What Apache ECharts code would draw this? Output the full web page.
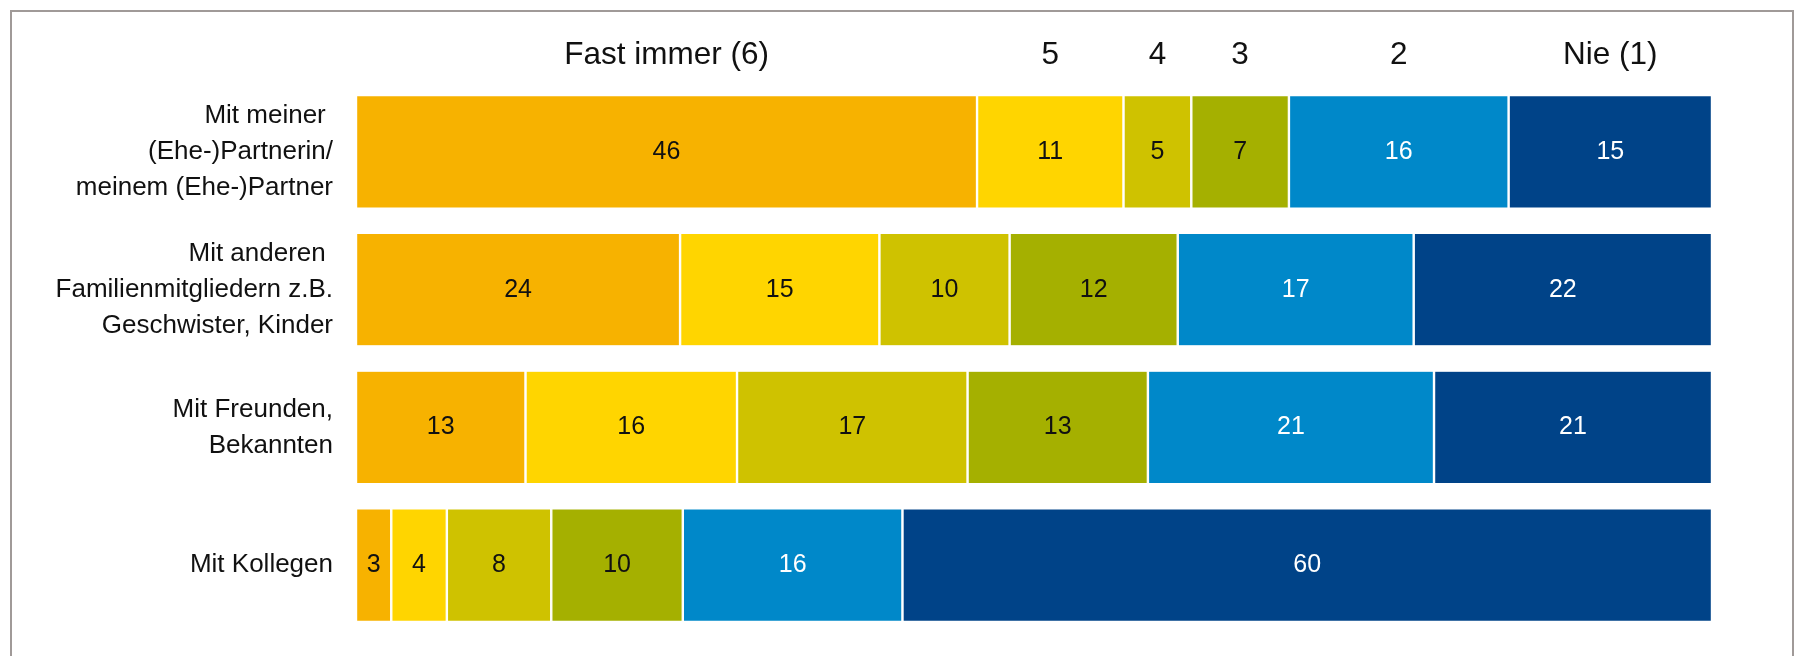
<!DOCTYPE html>
<html>
<head>
<meta charset="utf-8">
<script src="https://cdn.jsdelivr.net/npm/echarts@6/dist/echarts.min.js"></script>
<style>
html,body{margin:0;padding:0;background:#fff;}
#main{width:1799px;height:656px;}
</style>
</head>
<body>
<div id="main"></div>
<script>
var categories = [
  'Mit meiner \n(Ehe-)Partnerin/\nmeinem (Ehe-)Partner',
  'Mit anderen \nFamilienmitgliedern z.B.\nGeschwister, Kinder',
  'Mit Freunden,\nBekannten',
  'Mit Kollegen'
];
var seriesNames = ['Fast immer (6)', '5', '4', '3', '2', 'Nie (1)'];
var s6 = [45.8, 23.9, 12.5, 2.6];
var s5 = [10.8, 14.7, 15.6, 4.1];
var s4 = [5.0, 9.6, 17.0, 7.7];
var s3 = [7.2, 12.4, 13.3, 9.7];
var s2 = [16.2, 17.4, 21.1, 16.2];
var s1 = [15.0, 22.0, 20.5, 59.7];
var seriesValues = [s6, s5, s4, s3, s2, s1];
var colors = ['#F7B200', '#FFD500', '#CFC200', '#A5B000', '#0088C9', '#004388'];
var labelColors = ['#111', '#111', '#111', '#111', '#fff', '#fff'];

var FONT = '"Liberation Sans", Arial, sans-serif';
var series = [];
seriesValues.forEach(function (vals, i) {
  series.push({
    name: seriesNames[i],
    type: 'bar',
    stack: 'main',
    barWidth: '82.5%',
    barGap: '-100%',
    data: vals,
    itemStyle: { color: colors[i], borderColor: '#fff', borderWidth: 1.2 },
    label: {
      show: true,
      position: 'inside',
      color: labelColors[i],
      fontFamily: FONT,
      fontSize: 25,
      formatter: function (p) { return Math.round(p.value); }
    },
    silent: true
  });
});
// header labels: transparent overlay on first row
seriesValues.forEach(function (vals, i) {
  series.push({
    name: seriesNames[i] + ' header',
    type: 'bar',
    stack: 'header',
    barWidth: '82.5%',
    barGap: '-100%',
    data: vals.map(function (v, j) { return j === 0 ? v : null; }),
    itemStyle: { color: 'rgba(0,0,0,0)' },
    label: {
      show: true,
      position: 'top',
      distance: 24,
      color: '#111',
      fontFamily: FONT,
      fontSize: 31.5,
      formatter: seriesNames[i]
    },
    silent: true,
    z: 5
  });
});

var chart = echarts.init(document.getElementById('main'));
chart.setOption({
  animation: false,
  backgroundColor: '#fff',
  graphic: [{
    type: 'rect',
    shape: { x: 11, y: 11, width: 1782, height: 700 },
    style: { fill: 'none', stroke: '#A09A98', lineWidth: 2 },
    silent: true
  }],
  grid: { left: 356, right: 87, top: 83, bottom: 22 },
  xAxis: { type: 'value', min: 0, max: 100, show: false },
  yAxis: {
    type: 'category',
    data: categories,
    inverse: true,
    axisLine: { show: false },
    axisTick: { show: false },
    axisLabel: {
      margin: 23,
      color: '#111',
      fontFamily: FONT,
      fontSize: 26,
      lineHeight: 36,
      align: 'right'
    }
  },
  series: series
});
</script>
</body>
</html>
